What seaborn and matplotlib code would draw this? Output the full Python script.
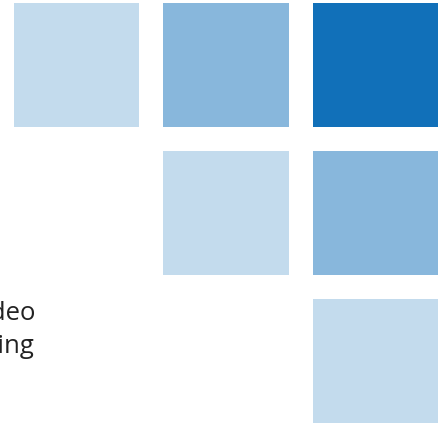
import numpy as np
import pandas as pd
import matplotlib
matplotlib.use("Agg")
import matplotlib.pyplot as plt
from matplotlib.colors import LinearSegmentedColormap
import seaborn as sns

# data
rows = ["r1", "r2", "r3"]
cols = ["c1", "c2", "c3"]
row1 = [0.25, 0.50, 1.00]
row2 = [np.nan, 0.25, 0.50]
row3 = [np.nan, np.nan, 0.25]
side_label = "Video\nstreaming"

df = pd.DataFrame([row1, row2, row3], index=rows, columns=cols)
mask = df.isna()

sns.set_style("white")
plt.rcParams["font.family"] = ["Open Sans", "DejaVu Sans"]

cmap = LinearSegmentedColormap.from_list("b", ["#ffffff", "#1170b9"])

W, H = 447, 425
fig = plt.figure(figsize=(W / 100, H / 100), dpi=100)
# axes extends slightly outside the figure (reference is a crop)
l, r, t, b = 2, 450, -9, 435
ax = fig.add_axes([l / W, (H - b) / H, (r - l) / W, (b - t) / H])
sns.heatmap(df, mask=mask, cmap=cmap, vmin=0, vmax=1, cbar=False,
            linewidths=24 * 72 / 100, linecolor="white", square=False, ax=ax)
ax.set_xticks([])
ax.set_yticks([])
ax.set_xlabel("")
ax.set_ylabel("")
for s in ax.spines.values():
    s.set_visible(False)

fig.text(35 / W, 1 - 330 / H, side_label, ha="right", va="center",
         multialignment="right", fontsize=18.5, color="#222222",
         linespacing=1.45)

fig.savefig("out.png", dpi=100)
